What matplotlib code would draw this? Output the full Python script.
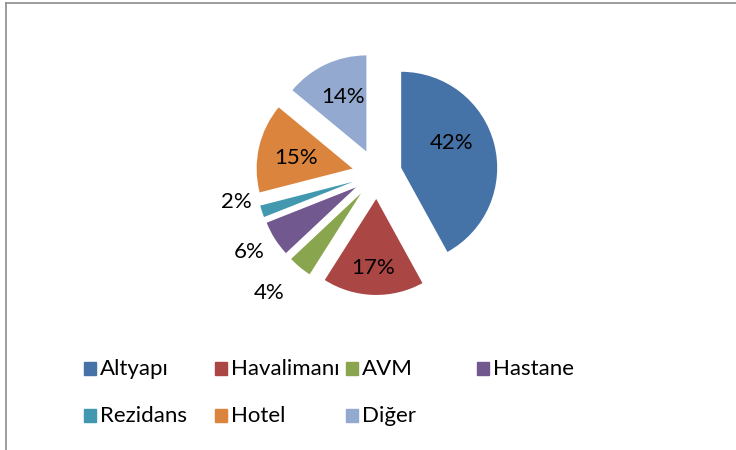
import numpy as np
import matplotlib
matplotlib.use("Agg")
import matplotlib.pyplot as plt
from matplotlib.lines import Line2D
from matplotlib.patches import Rectangle

categories = ["Altyapı", "Havalimanı", "AVM", "Hastane", "Rezidans", "Hotel", "Diğer"]
values = [42, 17, 4, 6, 2, 15, 14]
colors = ["#4572A7", "#AA4643", "#89A54E", "#71588F", "#4198AF", "#DB843D", "#93A9CF"]
# label placement (style): radius from pie centre and angular nudge in degrees
label_r = [0.846, 0.98, 1.674, 1.561, 1.498, 0.860, 0.877]
label_nudge = [8.1, -0.6, -2.6, -1.0, -6.8, 1.4, -1.4]

W, H = 736, 450
plt.rcParams['font.family'] = ['Lato', 'DejaVu Sans']
fig = plt.figure(figsize=(W / 100, H / 100), dpi=100)
fig.patch.set_facecolor("white")

# pie axes: unit radius = 96 px, centre at pixel (377, 174)
s = 96.0
cx, cy = 377.0, 174.0
ax = fig.add_axes([0, 0, 1, 1])

explode = [0.26] * len(values)
wedges, _ = ax.pie(values, colors=colors, startangle=90, counterclock=False,
                   explode=explode, radius=1.0, wedgeprops=dict(linewidth=0))
ax.set_xlim(-cx / s, (W - cx) / s)
ax.set_ylim(-(H - cy) / s, cy / s)
ax.set_aspect('equal')
ax.axis('off')

fs = 16
total = float(sum(values))
cum = 0.0
for v, r, nd in zip(values, label_r, label_nudge):
    mid = np.deg2rad(90 - (cum + v / 2) / total * 360 + nd)
    cum += v
    ax.text(r * np.cos(mid), r * np.sin(mid), f"{v}%", ha='center', va='center',
            fontsize=fs, color='black')

# legend (Excel-like uniform columns)
col_x = [84, 215, 346, 477]
row_y = [368, 415]
for i, (name, c) in enumerate(zip(categories, colors)):
    row, col = divmod(i, 4)
    x0, y0 = col_x[col], row_y[row]
    fig.patches.append(Rectangle((x0 / W, 1 - (y0 + 6.5) / H), 12 / W, 13 / H,
                                 transform=fig.transFigure, color=c, figure=fig))
    fig.text((x0 + 16) / W, 1 - (y0 + 1) / H, name, ha='left', va='center',
             fontsize=fs, color='black')

# chart border (left and top edges visible)
fig.add_artist(Line2D([6.5 / W, 6.5 / W], [0, 1 - 2.5 / H], transform=fig.transFigure,
                      color='#8c8c8c', linewidth=1.2))
fig.add_artist(Line2D([6.5 / W, 1], [1 - 2.5 / H, 1 - 2.5 / H], transform=fig.transFigure,
                      color='#8c8c8c', linewidth=1.2))

fig.savefig("out.png", dpi=100)
